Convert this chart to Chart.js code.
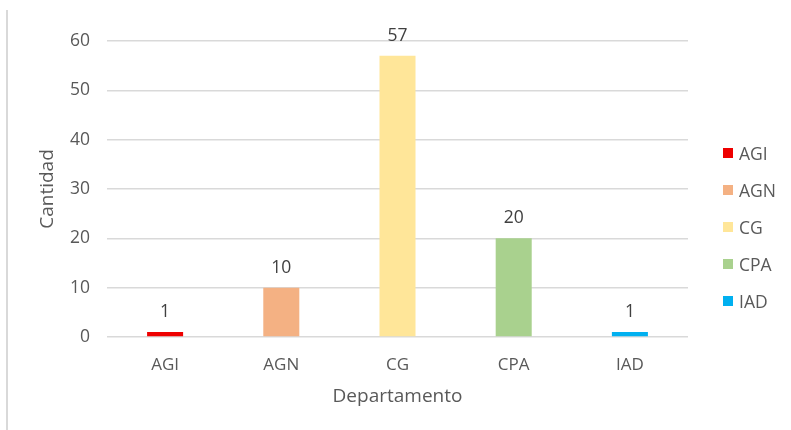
<!DOCTYPE html>
<html>
<head>
<meta charset="utf-8">
<script src="https://cdn.jsdelivr.net/npm/chart.js@4.4.0/dist/chart.umd.min.js"></script>
<style>
  html, body { margin: 0; padding: 0; background: #fff; }
  #wrap { position: relative; width: 791px; height: 430px; }
  #frame { position: absolute; left: 6px; top: 10px; width: 2px; height: 420px; background: #d9d9d9; }
  #legend { position: absolute; left: 723px; top: 134px; font: 17.5px "Open Sans"; color: #595959; }
  #legend .item { height: 37.2px; display: flex; align-items: center; }
  #legend .box { width: 10px; height: 10px; margin-right: 6px; }
</style>
</head>
<body>
<div id="wrap">
  <canvas id="chart" width="791" height="430"></canvas>
  <div id="frame"></div>
  <div id="legend"></div>
</div>
<script>
// departamentos y cantidades
const departamentos = ["AGI", "AGN", "CG", "CPA", "IAD"];
const cantidad = [1, 10, 57, 20, 1];
const colores = ["#ee0000", "#f4b183", "#ffe699", "#a9d18e", "#00b0f0"];
const yTicks = [0, 10, 20, 30, 40, 50, 60];

const textColor = "#595959";
const fontFamily = '"Open Sans", sans-serif';

// etiquetas de valor encima de cada barra
const valueLabels = {
  id: "valueLabels",
  afterDatasetsDraw(chart) {
    const ctx = chart.ctx;
    const meta = chart.getDatasetMeta(0);
    ctx.save();
    ctx.font = "17.5px " + fontFamily;
    ctx.fillStyle = "#404040";
    ctx.textAlign = "center";
    ctx.textBaseline = "middle";
    meta.data.forEach((bar, i) => {
      ctx.fillText(String(cantidad[i]), bar.x, bar.y - 20);
    });
    ctx.restore();
  },
};

new Chart(document.getElementById("chart"), {
  type: "bar",
  data: {
    labels: departamentos,
    datasets: [
      {
        label: "Cantidad",
        data: cantidad,
        backgroundColor: colores,
        borderWidth: 0,
        barPercentage: 0.31,
        categoryPercentage: 1,
      },
    ],
  },
  options: {
    responsive: false,
    animation: false,
    layout: { padding: { top: 41, right: 103, bottom: 22, left: 0 } },
    plugins: {
      legend: { display: false },
      tooltip: { enabled: false },
    },
    scales: {
      x: {
        grid: { display: false },
        border: { display: false },
        ticks: { color: textColor, font: { family: fontFamily, size: 17 }, padding: 10 },
        title: {
          display: true,
          text: "Departamento",
          color: textColor,
          font: { family: fontFamily, size: 19 },
          padding: { top: 6, bottom: 0 },
        },
        afterFit(scale) { scale.height = 71; },
      },
      y: {
        min: 0,
        max: 60,
        afterBuildTicks(scale) { scale.ticks = yTicks.map((v) => ({ value: v })); },
        grid: { color: "#d9d9d9", lineWidth: 1.5, drawTicks: false },
        border: { display: false },
        ticks: { color: textColor, font: { family: fontFamily, size: 17.5 }, padding: 17 },
        title: {
          display: true,
          text: "Cantidad",
          color: textColor,
          font: { family: fontFamily, size: 19 },
          padding: { top: 36, bottom: 0 },
        },
        afterFit(scale) { scale.width = 107; },
      },
    },
  },
  plugins: [valueLabels],
});

// leyenda por departamento
const legend = document.getElementById("legend");
departamentos.forEach((d, i) => {
  const item = document.createElement("div");
  item.className = "item";
  const box = document.createElement("span");
  box.className = "box";
  box.style.background = colores[i];
  const txt = document.createElement("span");
  txt.textContent = d;
  item.appendChild(box);
  item.appendChild(txt);
  legend.appendChild(item);
});
</script>
</body>
</html>
